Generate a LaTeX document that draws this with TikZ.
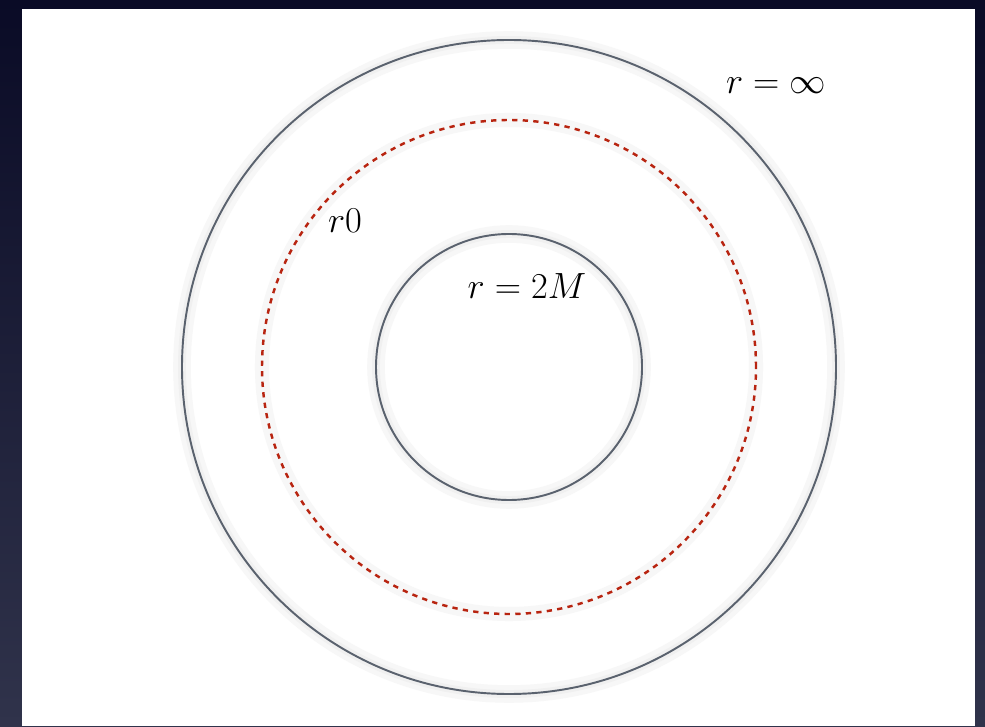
\documentclass[tikz,border=0pt]{standalone}
\usetikzlibrary{backgrounds}

\definecolor{rand}{HTML}{5A626E}
\definecolor{rot}{HTML}{B82410}
\definecolor{nacht}{HTML}{0A0B26}
\definecolor{nachthell}{HTML}{30334B}

\tikzset{
    schale/.style={draw=rand, line width=1.1pt,
        preaction={draw=black!3, line width=10pt},
        preaction={draw=black!6, line width=4.5pt}},
    grenze/.style={draw=rot, line width=1.4pt, dash pattern=on 3pt off 3pt,
        preaction={draw=black!3, line width=8pt, solid}},
    etikett/.style={font=\fontsize{22}{26}\selectfont, inner sep=0pt}
}

\begin{document}
\begin{tikzpicture}
        \useasboundingbox (0,0) rectangle (19.7,14.52);
        \def\Rau{6.54}   % r = unendlich
        \def\Rnull{4.94} % r0
        \def\Rin{2.66}   % r = 2M

        % Hintergrund und Blatt
        \shade[top color=nacht, bottom color=nachthell] (0,0) rectangle (19.7,14.52);
        \fill[white] (0.44,0) rectangle (19.5,14.34);

        \coordinate (M) at (10.18,7.18);

        % Kreise
        \draw[schale] (M) circle (\Rau);
        \draw[grenze] (M) circle (\Rnull);
        \draw[schale] (M) circle (\Rin);

        % Beschriftungen
        \node[etikett] (unendlich) at (15.52,12.8) {$r=\infty$};
        \node[etikett] (rnull) at (6.9,10.1) {$r0$};
        \node[etikett] (horizont) at (10.54,8.8) {$r=2M$};
\end{tikzpicture}
\end{document}
